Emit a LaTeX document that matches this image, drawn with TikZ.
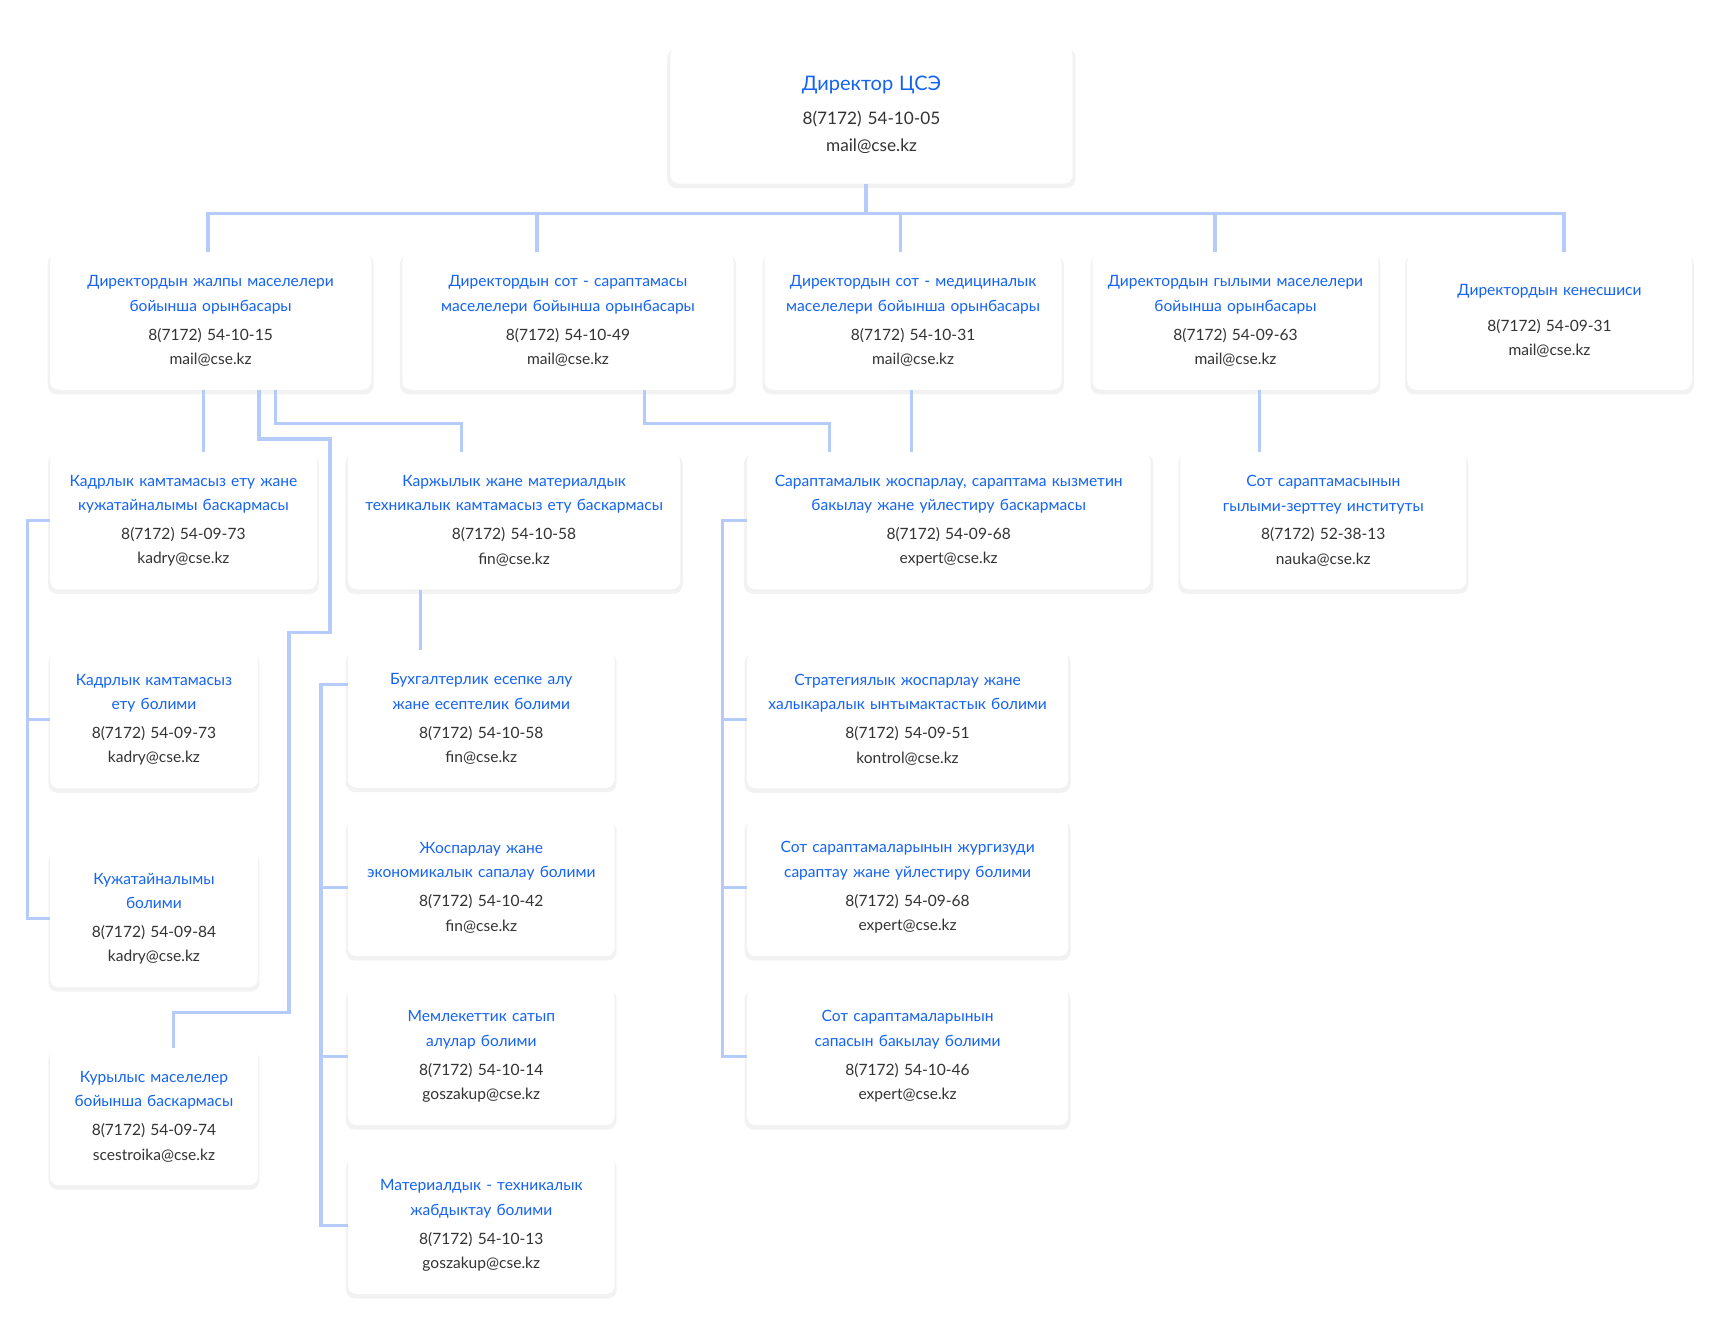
\documentclass[tikz,border=0pt]{standalone}
\usepackage{fontspec}
\setmainfont{Lato}
\usetikzlibrary{shadows}
\definecolor{bleu}{HTML}{1463F3}
\definecolor{gris}{HTML}{333333}
\definecolor{trait}{HTML}{B5CCFA}
\tikzstyle{bloc}=[rectangle,rounded corners=8pt,fill=white,text=bleu,align=center,inner xsep=3pt,inner ysep=0pt,minimum height=123.5pt,font=\fontsize{14}{22}\selectfont,drop shadow={shadow xshift=0pt,shadow yshift=-3pt,shadow scale=1.015,fill=black,opacity=0.05}]
\tikzstyle{lien}=[draw=trait,line width=3pt]

\begin{document}
\begin{tikzpicture}[x=1pt,y=-1pt]
    \fill[white] (0,0) rectangle (1560,1209);
    \useasboundingbox (0,0) rectangle (1560,1209);
    % directeur
    \node[bloc,text width=356pt,font=\fontsize{15.5}{25}\selectfont] (dir) at (784,103.5) {{\fontsize{18}{25}\selectfont Директор ЦСЭ}\\[5pt]{\color{gris}8(7172) 54-10-05\\mail@cse.kz}};
    \node[bloc,text width=250pt] (sovet) at (1394,289) {Директордын кенесшиси\\[10pt]{\color{gris}8(7172) 54-09-31\\mail@cse.kz}};
    % services
    \foreach \pos/\name/\larg/\titre/\tel/\mel in {
        {(189.5,289)/zam1/289/{Директордын жалпы маселелери\\бойынша орынбасары}/54-10-15/mail},
        {(511,289)/zam2/298/{Директордын сот - сараптамасы\\маселелери бойынша орынбасары}/54-10-49/mail},
        {(821.5,289)/zam3/267/{Директордын сот - медициналык\\маселелери бойынша орынбасары}/54-10-31/mail},
        {(1111.5,289)/zam4/257/{Директордын гылыми маселелери\\бойынша орынбасары}/54-09-63/mail},
        {(165,468.5)/kadry/240/{Кадрлык камтамасыз ету жане\\кужатайналымы баскармасы}/54-09-73/kadry},
        {(462.5,468.5)/fin/299/{Каржылык жане материалдык\\техникалык камтамасыз ету баскармасы}/54-10-58/fin},
        {(853.5,468.5)/exp/363/{Сараптамалык жоспарлау, сараптама кызметин\\бакылау жане уйлестиру баскармасы}/54-09-68/expert},
        {(1190.5,468.5)/nii/257/{Сот сараптамасынын\\гылыми-зерттеу институты}/52-38-13/nauka},
        {(138.5,647.5)/kadrbol/187/{Кадрлык камтамасыз\\ету болими}/54-09-73/kadry},
        {(138.5,826.5)/dokbol/187/{Кужатайналымы\\болими}/54-09-84/kadry},
        {(138.5,1004.5)/stroi/187/{Курылыс маселелер\\бойынша баскармасы}/54-09-74/scestroika},
        {(433,647)/buh/240/{Бухгалтерлик есепке алу\\жане есептелик болими}/54-10-58/fin},
        {(433,798.5)/plan/240/{Жоспарлау жане\\экономикалык сапалау болими}/54-10-42/fin},
        {(433,950.5)/zakup/240/{Мемлекеттик сатып\\алулар болими}/54-10-14/goszakup},
        {(433,1102.5)/mto/240/{Материалдык - техникалык\\жабдыктау болими}/54-10-13/goszakup},
        {(816.5,647.5)/strat/289/{Стратегиялык жоспарлау жане\\халыкаралык ынтымактастык болими}/54-09-51/kontrol},
        {(816.5,798.5)/kontrol/289/{Сот сараптамаларынын жургизуди\\сараптау жане уйлестиру болими}/54-09-68/expert},
        {(816.5,950.5)/kach/289/{Сот сараптамаларынын\\сапасын бакылау болими}/54-10-46/expert}}
    {
        \pgfmathsetmacro\lt{\larg-6}
        \node[bloc,text width=\lt pt] (\name) at \pos {\titre\\[4pt]{\color{gris}8(7172) \tel\\\mel @cse.kz}};
    }
    % liens
    \draw[lien] ([xshift=-5]dir.south) -- ++(0,27);
    \draw[lien] ([xshift=-2.5]zam1.north) -- ++(0,-35) -| ([xshift=13]sovet.north);
    \foreach \name/\dx in {zam2/-28, zam3/-11.5, zam4/-18.5}
        \path[lien] ([xshift=\dx]\name.north) -- ++(0,-35);
    \draw[lien] ([xshift=-6.5]zam1.south) -- ([xshift=18]kadry.north);
    \draw[lien] ([xshift=58.5]zam1.south) -- ++(0,30) -| ([xshift=-47.5]fin.north);
    \draw[lien] ([xshift=43.5]zam1.south) -- ++(0,44) -- ++(64,0) -- ++(0,174) -- ++(-37,0) -- ++(0,342) -| ([xshift=17.5]stroi.north);
    \draw[lien] ([xshift=69]zam2.south) -- ++(0,30) -| ([xshift=-107.5]exp.north);
    \draw[lien] ([xshift=-1.5]zam3.south) -- ([xshift=-33.5]exp.north);
    \draw[lien] ([xshift=21.5]zam4.south) -- ([xshift=-57.5]nii.north);
    \draw[lien] ([xshift=-84.5]fin.south) -- ([xshift=-55]buh.north);
    % sous-services
    \foreach \name in {kadrbol, dokbol}
        \path[lien] (kadry.west) -- ++(-20,0) |- (\name.west);
    \foreach \name in {plan, zakup, mto}
        \path[lien] ([yshift=31]buh.west) -- ++(-24,0) |- (\name.west);
    \foreach \name in {strat, kontrol, kach}
        \path[lien] (exp.west) -- ++(-22,0) |- (\name.west);
\end{tikzpicture}
\end{document}
